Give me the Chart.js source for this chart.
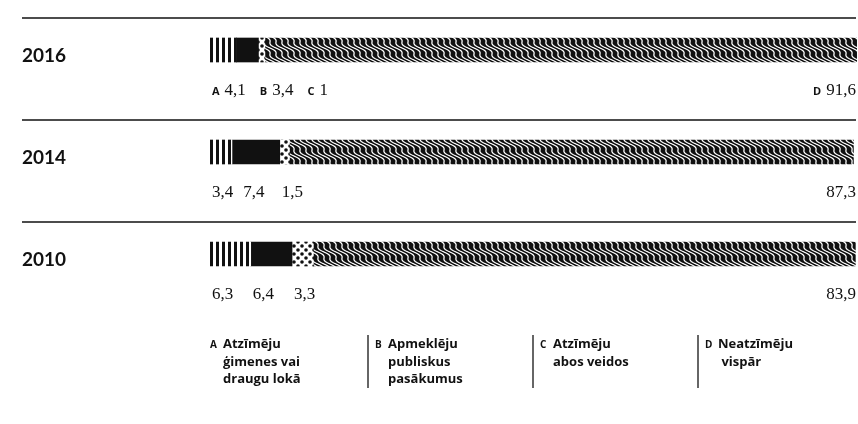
<!DOCTYPE html>
<html>
<head>
<meta charset="utf-8">
<script src="https://cdn.jsdelivr.net/npm/chart.js@4.4.1/dist/chart.umd.min.js"></script>
<style>
  html, body { margin: 0; padding: 0; background: #fff; }
  #wrap { width: 858px; height: 424px; position: relative; }
</style>
</head>
<body>
<div id="wrap"><canvas id="myChart"></canvas></div>
<script>
// dati
const years = ['2016', '2014', '2010'];
const seriesA = [4.1, 3.4, 6.3];
const seriesB = [3.4, 7.4, 6.4];
const seriesC = [1, 1.5, 3.3];
const seriesD = [91.6, 87.3, 83.9];
const letters = ['A', 'B', 'C', 'D'];
const legendLines = [
  ['Atzīmēju', 'ģimenes vai', 'draugu lokā'],
  ['Apmeklēju', 'publiskus', 'pasākumus'],
  ['Atzīmēju', 'abos veidos'],
  ['Neatzīmēju', ' vispār']
];

const INK = '#111';

// raksti
const makeTile = (w, h, draw) => {
  const c = document.createElement('canvas');
  c.width = w;
  c.height = h;
  draw(c.getContext('2d'), w, h);
  return document.createElement('canvas').getContext('2d').createPattern(c, 'repeat');
};

const stripes = makeTile(6, 6, (g, w, h) => {
  g.fillStyle = '#fff';
  g.fillRect(0, 0, w, h);
  g.fillStyle = INK;
  g.fillRect(0, 0, 3, h);
});

const dots = makeTile(8, 8, (g, w, h) => {
  g.fillStyle = '#fff';
  g.fillRect(0, 0, w, h);
  g.fillStyle = INK;
  [[2, 2], [6, 6]].forEach(([x, y]) => {
    g.beginPath();
    g.arc(x, y, 1.8, 0, Math.PI * 2);
    g.fill();
  });
});

const waves = makeTile(6, 24, (g, w, h) => {
  g.fillStyle = INK;
  g.fillRect(0, 0, w, h);
  g.strokeStyle = '#fff';
  g.lineWidth = 1.3;
  for (let x0 = -36; x0 <= 12; x0 += 6) {
    g.beginPath();
    for (let y = -2; y <= h + 2; y += 0.5) {
      const x = x0 + y + 2.2 * Math.sin(2 * Math.PI * y / 12);
      if (y === -2) g.moveTo(x, y); else g.lineTo(x, y);
    }
    g.stroke();
  }
});

const fmt = v => String(v).replace('.', ',');

const decorPlugin = {
  id: 'decor',
  afterDraw(chart) {
    const { ctx, chartArea } = chart;
    const xs = chart.scales.x;
    const ys = chart.scales.y;
    const all = [seriesA, seriesB, seriesC, seriesD];
    ctx.save();

    years.forEach((yr, i) => {
      const cy = ys.getPixelForValue(i);

      // atdalītājlīnija
      ctx.strokeStyle = INK;
      ctx.lineWidth = 1.5;
      ctx.beginPath();
      ctx.moveTo(22, cy - 32);
      ctx.lineTo(chartArea.right, cy - 32);
      ctx.stroke();

      // gads
      ctx.fillStyle = INK;
      ctx.textBaseline = 'alphabetic';
      ctx.textAlign = 'left';
      ctx.font = 'bold 19px Lato';
      ctx.fillText(yr, 22, cy + 12);

      // vērtības
      const by = cy + 45;
      let prevEnd = -Infinity;
      let start = 0;
      for (let k = 0; k < 3; k++) {
        const segX = xs.getPixelForValue(start) + 2;
        let x = Math.max(segX, prevEnd + 10);
        if (i === 0) {
          ctx.font = 'bold 11px "Open Sans"';
          ctx.fillText(letters[k], x, by);
          x += ctx.measureText(letters[k]).width + 5;
        }
        ctx.font = '17px "Liberation Serif"';
        const t = fmt(all[k][i]);
        ctx.fillText(t, x, by);
        prevEnd = x + ctx.measureText(t).width + (i === 0 ? 4 : 0);
        start += all[k][i];
      }
      ctx.textAlign = 'right';
      ctx.font = '17px "Liberation Serif"';
      const dt = fmt(seriesD[i]);
      ctx.fillText(dt, chartArea.right, by);
      if (i === 0) {
        const w = ctx.measureText(dt).width;
        ctx.font = 'bold 11px "Open Sans"';
        ctx.fillText(letters[3], chartArea.right - w - 5, by);
      }
    });

    // leģenda
    legendLines.forEach((lines, k) => {
      const col = 203 + k * 165;
      if (k > 0) {
        ctx.strokeStyle = '#333';
        ctx.lineWidth = 1.5;
        ctx.beginPath();
        ctx.moveTo(col, 335);
        ctx.lineTo(col, 388);
        ctx.stroke();
      }
      ctx.fillStyle = INK;
      ctx.textAlign = 'left';
      ctx.font = 'bold 10px "Open Sans"';
      ctx.fillText(letters[k], col + 7, 348);
      ctx.font = 'bold 13px "Open Sans"';
      lines.forEach((ln, j) => {
        ctx.fillText(ln, col + 20, 348 + j * 17.5);
      });
    });

    ctx.restore();
  }
};

const ctx = document.getElementById('myChart').getContext('2d');

const myChart = new Chart(ctx, {
  type: 'bar',
  data: {
    labels: years,
    datasets: [
      { label: letters[0], data: seriesA, backgroundColor: stripes },
      { label: letters[1], data: seriesB, backgroundColor: INK },
      { label: letters[2], data: seriesC, backgroundColor: dots },
      { label: letters[3], data: seriesD, backgroundColor: waves }
    ]
  },
  options: {
    indexAxis: 'y',
    responsive: true,
    maintainAspectRatio: false,
    animation: false,
    datasets: {
      bar: { barThickness: 24, borderWidth: 0, borderSkipped: false, clip: false }
    },
    layout: { padding: { left: 210, right: 2, top: 50, bottom: 170 } },
    scales: {
      x: { stacked: true, min: 0, max: 100, display: false },
      y: { stacked: true, offset: false, display: false }
    },
    plugins: {
      legend: { display: false },
      tooltip: { enabled: false }
    }
  },
  plugins: [decorPlugin]
});
</script>
</body>
</html>
